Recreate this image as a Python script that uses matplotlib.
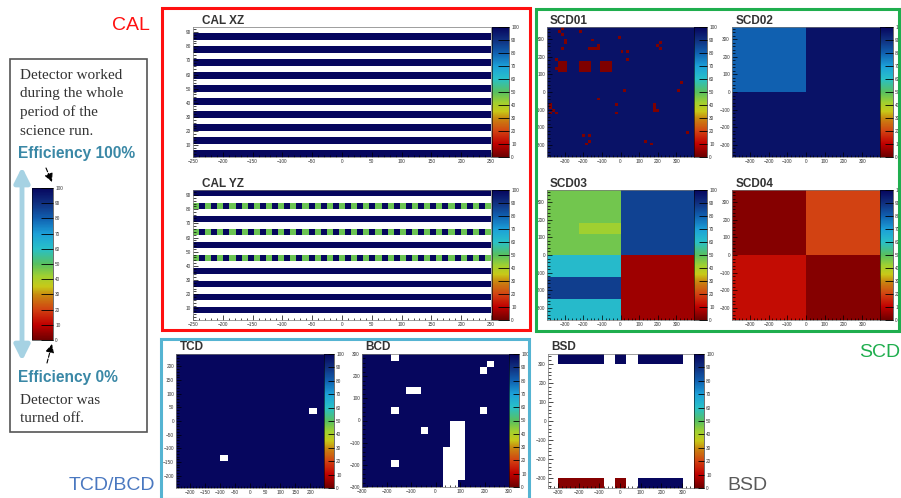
import numpy as np
import matplotlib
matplotlib.use("Agg")
import matplotlib.pyplot as plt
from matplotlib.colors import LinearSegmentedColormap
from matplotlib.patches import Rectangle
from matplotlib.ticker import AutoMinorLocator

W, H = 901, 498
nan = np.nan

# ---- data (efficiency in %) ----
# CAL: 20 rows, NaN = no bars in that row
cal_xz_rows = [100, nan] * 10
cal_yz_rows = [nan, 100, nan, 100, nan, 100, nan, 100, nan, 100,
               nan, 100, nan, 100, nan, 100, nan, 100, nan, 100]
cal_yz_checker_rows = [9, 13, 17]
cal_checker = [48, 100] * 24 + [48]

# SCD01: background efficiency and dead spots (x, y in mm)
scd01_base = 97
scd01_dead_val = 2
scd01_dots = [(-316, 362), (-331, 344), (-316, 325), (-218, 344), (-289, 297),
              (-300, 276), (-316, 253), (-148, 297), (-160, 253), (-144, 253),
              (-128, 253), (-116, 253), (-116, 266), (-3, 314), (10, 237),
              (39, 237), (39, 190), (195, 268), (221, 283), (211, 253),
              (-345, 190), (-345, 130), (336, 54), (309, 7), (24, 7),
              (-119, -37), (-372, -75), (-372, -90), (-355, -100), (-345, -115),
              (-372, -115), (-31, -75), (-31, -116), (182, -75), (182, -90),
              (190, -100), (200, -100), (354, -224), (-200, -255), (-173, -255),
              (-173, -284), (-191, -301), (135, -272), (166, -301)]
scd01_blocks = [(-334, -280, 118, 181), (-223, -164, 118, 181), (-110, -52, 118, 181)]

# SCD02 / SCD04: quadrants [bottom row, top row] x [left, right]
scd02_vals = [[97, 97], [80, 97]]
scd04_vals = [[12, 3], [3, 20]]
# SCD03: bands on the left half
scd03_yedges = [-370, -248, -124, 0, 122, 182, 370]
scd03_xedges = [-395, -223, 0, 395]
scd03_vals = [[62, 62, 6],
              [87, 87, 6],
              [62, 62, 6],
              [47, 47, 86],
              [47, 42, 86],
              [47, 47, 86]]

# TCD / BCD: rectangles (x0, x1, y0, y1) with no data
tcd_dead = [(196, 220.5, 24.5, 49), (-98, -73.5, -147, -122.5)]
bcd_dead = [(-180, -150, 270, 300), (210, 240, 240, 270), (180, 210, 210, 240),
            (-120, -60, 120, 150), (-180, -150, 30, 60), (180, 210, 30, 60),
            (-60, -30, -60, -30), (-180, -150, -210, -180), (60, 120, -270, 0),
            (60, 90, -300, -270), (30, 60, -300, -120)]

# BSD: 11 bars on top and bottom
bsd_xedges = [-300, -245, -190, -135, -80, -25, 30, 85, 140, 195, 250, 305]
bsd_top = [100, 100, 100, 100, nan, 100, nan, 100, 100, 100, 100]
bsd_bottom = [3, 3, 3, 3, nan, 3, nan, 100, 100, 100, 100]

# ---- style ----
cmap = LinearSegmentedColormap.from_list("eff", list(zip(
    [0, .1, .2, .3, .35, .42, .5, .6, .7, .8, .9, 1.0],
    ['#6e0000', '#c00000', '#d24212', '#c88c10', '#c8c818', '#a0d030',
     '#58c060', '#28c0c8', '#1ca0d8', '#1060b0', '#103080', '#06065e'])))

plt.rcParams['font.family'] = ['Liberation Sans', 'DejaVu Sans']
TICK_FS = 3.4
TXT = '#333333'

fig = plt.figure(figsize=(W / 100, H / 100), dpi=100)


def box(x0, y0, x1, y1):
    return [x0 / W, 1 - y1 / H, (x1 - x0) / W, (y1 - y0) / H]


over = fig.add_axes([0, 0, 1, 1])
over.set_xlim(0, W)
over.set_ylim(H, 0)
over.axis('off')
over.set_zorder(10)
over.patch.set_alpha(0)


def panel(rect, crect, xe, ye, vals, xlim, ylim, xticks, yticks, title, tx, ty):
    ax = fig.add_axes(box(*rect))
    m = ax.pcolormesh(xe, ye, np.ma.masked_invalid(np.array(vals, float)),
                      cmap=cmap, vmin=0, vmax=100)
    ax.set_xlim(*xlim)
    ax.set_ylim(*ylim)
    ax.set_xticks(xticks)
    ax.set_yticks(yticks)
    ax.xaxis.set_minor_locator(AutoMinorLocator(5))
    ax.yaxis.set_minor_locator(AutoMinorLocator(5))
    ax.tick_params(which='both', direction='in', labelsize=TICK_FS, colors='black',
                   labelcolor=TXT, width=0.5, pad=1.5)
    ax.tick_params(which='major', length=3.5)
    ax.tick_params(which='minor', length=1.8)
    for s in ax.spines.values():
        s.set_linewidth(0.5)
        s.set_color('#777777')
    cax = fig.add_axes(box(*crect))
    cb = fig.colorbar(m, cax=cax, ticks=range(0, 101, 10))
    cb.outline.set_linewidth(0.4)
    cax.tick_params(direction='in', length=(crect[2] - crect[0]) * 0.45, width=0.6,
                    labelsize=TICK_FS, labelcolor=TXT, pad=1.5)
    over.text(tx, ty, title, fontsize=8.5, fontweight='bold', color=TXT,
              ha='left', va='center')
    return ax


def grid_vals(xe, ye, base):
    return np.full((len(ye) - 1, len(xe) - 1), float(base))


def mark(vals, xe, ye, rects, v):
    xc = (np.array(xe[:-1]) + np.array(xe[1:])) / 2
    yc = (np.array(ye[:-1]) + np.array(ye[1:])) / 2
    for x0, x1, y0, y1 in rects:
        sel_y = (yc >= y0) & (yc < y1)
        sel_x = (xc >= x0) & (xc < x1)
        vals[np.ix_(sel_y, sel_x)] = v


# ---- CAL ----
cal_xe = np.linspace(-250, 250, len(cal_checker) + 1)
cal_ye = np.linspace(1.8, 93.6, len(cal_xz_rows) + 1)
xz = np.tile(np.array(cal_xz_rows, float)[:, None], (1, len(cal_checker)))
yz = np.tile(np.array(cal_yz_rows, float)[:, None], (1, len(cal_checker)))
for r in cal_yz_checker_rows:
    yz[r] = cal_checker
cal_xt = range(-250, 251, 50)
cal_yt = range(10, 91, 10)
panel((193, 27, 491, 157), (492, 27, 509, 157), cal_xe, cal_ye, xz,
      (-250, 250), (1.8, 93.6), cal_xt, cal_yt, 'CAL XZ', 202, 21)
panel((193, 190, 491, 320), (492, 190, 509, 320), cal_xe, cal_ye, yz,
      (-250, 250), (1.8, 93.6), cal_xt, cal_yt, 'CAL YZ', 202, 184)

# ---- SCD ----
scd_lim = ((-395, 395), (-370, 370))
scd_t = range(-300, 301, 100)
s1_e = np.arange(-400, 401, 16)
s1 = grid_vals(s1_e, s1_e, scd01_base)
mark(s1, s1_e, s1_e, scd01_blocks, scd01_dead_val)
mark(s1, s1_e, s1_e, [(x - 8, x + 8, y - 8, y + 8) for x, y in scd01_dots], scd01_dead_val)
panel((547, 27, 694, 157), (694, 27, 707, 157), s1_e, s1_e, s1,
      *scd_lim, scd_t, scd_t, 'SCD01', 550, 21)
q_xe = [-395, 0, 395]
q_ye = [-370, 0, 370]
panel((732, 27, 880, 157), (880, 27, 893, 157), q_xe, q_ye, scd02_vals,
      *scd_lim, scd_t, scd_t, 'SCD02', 736, 21)
panel((547, 190, 694, 320), (694, 190, 707, 320), scd03_xedges, scd03_yedges, scd03_vals,
      *scd_lim, scd_t, scd_t, 'SCD03', 550, 184)
panel((732, 190, 880, 320), (880, 190, 893, 320), q_xe, q_ye, scd04_vals,
      *scd_lim, scd_t, scd_t, 'SCD04', 736, 184)

# ---- TCD / BCD ----
t_e = np.linspace(-245, 245, 21)
t = grid_vals(t_e, t_e, 100)
mark(t, t_e, t_e, tcd_dead, nan)
panel((176, 354, 324, 488), (324, 354, 334, 488), t_e, t_e, t,
      (-245, 245), (-245, 245), range(-200, 201, 50), range(-200, 201, 50), 'TCD', 180, 347)
b_e = np.arange(-300, 301, 30)
b = grid_vals(b_e, b_e, 100)
mark(b, b_e, b_e, bcd_dead, nan)
panel((362, 354, 509, 487), (509, 354, 519, 487), b_e, b_e, b,
      (-300, 300), (-300, 300), range(-300, 301, 100), range(-300, 301, 100), 'BCD', 365, 347)

# ---- BSD ----
bsd_ye = [-352, -300, 300, 352]
bsd_vals = [bsd_bottom, [nan] * len(bsd_top), bsd_top]
panel((548, 354, 694, 488), (694, 354, 704, 488), bsd_xedges, bsd_ye, bsd_vals,
      (-348, 357), (-352, 352), range(-300, 301, 100), range(-300, 301, 100), 'BSD', 551, 347)

# ---- group frames and labels ----
over.add_patch(Rectangle((162, 8), 368, 322, fill=False, ec='#ff1010', lw=2.2))
over.add_patch(Rectangle((536, 9), 363, 322, fill=False, ec='#1fae4e', lw=2.2))
over.add_patch(Rectangle((161, 339), 368, 160, fill=False, ec='#55b4d2', lw=2.2))
over.text(150, 25, 'CAL', color='#ff1010', fontsize=14, ha='right', va='center')
over.text(900, 352, 'SCD', color='#1fae4e', fontsize=14, ha='right', va='center')
over.text(155, 485, 'TCD/BCD', color='#4a78c0', fontsize=14, ha='right', va='center')
over.text(727, 485, 'BSD', color='#5a5a5a', fontsize=14, ha='left', va='center')

# ---- explanation box on the left ----
over.add_patch(Rectangle((10, 59), 137, 373, fill=False, ec='#555555', lw=1.2))
serif = ['Liberation Serif', 'DejaVu Serif']
for y, s in zip([75, 93, 112, 131], ['Detector worked', 'during the whole',
                                      'period of the', 'science run.']):
    over.text(20, y, s, family=serif, fontsize=11, color=TXT, va='center')
for y, s in zip([400, 418], ['Detector was', 'turned off.']):
    over.text(20, y, s, family=serif, fontsize=11, color=TXT, va='center')
over.text(18, 153, 'Efficiency 100%', fontsize=11.2, fontweight='bold', color='#3a88a6', va='center')
over.text(18, 377, 'Efficiency 0%', fontsize=11.2, fontweight='bold', color='#3a88a6', va='center')
over.annotate('', xy=(22, 167), xytext=(22, 361),
              arrowprops=dict(arrowstyle='<|-|>,head_length=0.9,head_width=0.45',
                              lw=3.5, color='#a6d2e3', shrinkA=0, shrinkB=0))
over.annotate('', xy=(52, 182), xytext=(46, 168),
              arrowprops=dict(arrowstyle='-|>,head_length=0.5,head_width=0.25',
                              lw=0.8, ls='--', color='black', shrinkA=0, shrinkB=0))
over.annotate('', xy=(52, 344), xytext=(47, 363),
              arrowprops=dict(arrowstyle='-|>,head_length=0.5,head_width=0.25',
                              lw=0.8, ls='--', color='black', shrinkA=0, shrinkB=0))

lax = fig.add_axes(box(32, 188, 53, 340))
sm = plt.cm.ScalarMappable(cmap=cmap, norm=plt.Normalize(0, 100))
lcb = fig.colorbar(sm, cax=lax, ticks=range(0, 101, 10))
lcb.outline.set_linewidth(0.4)
lax.spines['left'].set_linewidth(1.2)
lax.tick_params(direction='in', length=9, width=0.6, labelsize=TICK_FS, labelcolor=TXT, pad=1.5)

fig.savefig('out.png', dpi=100)
